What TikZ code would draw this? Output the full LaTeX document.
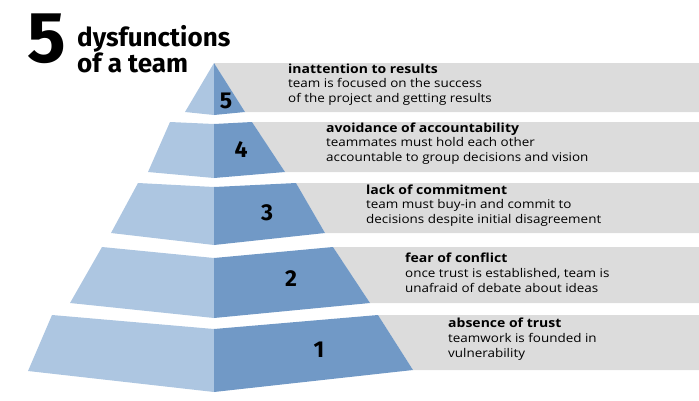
\documentclass[tikz,border=0pt]{standalone}
\usepackage{fontspec}
\setmainfont{Fira Sans}
\newfontfamily\bodyf[FakeStretch=1.12]{Open Sans}
\definecolor{lb}{HTML}{ADC6E1}
\definecolor{db}{HTML}{7199C6}
\definecolor{gb}{HTML}{DCDCDC}
\begin{document}
\begin{tikzpicture}[x=1pt,y=-1pt,
  title/.style={anchor=north west,inner sep=0pt,font=\bodyf\fontsize{12.5}{14}\selectfont\bfseries},
  body/.style={anchor=north west,inner sep=0pt,align=left,font=\bodyf\fontsize{12}{15.5}\selectfont},
  num/.style={inner sep=0pt,font=\fontsize{23}{24}\selectfont\bfseries}]
\useasboundingbox (0,0) rectangle (699,400);
% layer 5
\fill[gb] (214,63) -- (699,63) -- (699,112) -- (245,112) -- cycle;
\fill[lb] (214,63) -- (185,112) -- (214,115) -- cycle;
\fill[db] (214,63) -- (214,115) -- (245,112) -- cycle;
% layer 4
\fill[gb] (252,122) -- (699,122) -- (699,172) -- (285,172) -- cycle;
\fill[lb] (214,124) -- (170,122) -- (148,172) -- (214,178) -- cycle;
\fill[db] (214,124) -- (252,122) -- (285,172) -- (214,178) -- cycle;
% layer 3
\fill[gb] (296,183) -- (699,183) -- (699,233) -- (325,233) -- cycle;
\fill[lb] (214,187) -- (138,183) -- (111,233) -- (214,245) -- cycle;
\fill[db] (214,187) -- (296,183) -- (325,233) -- (214,245) -- cycle;
% layer 2
\fill[gb] (333,247) -- (699,247) -- (699,303) -- (370,303) -- cycle;
\fill[lb] (214,258) -- (102,247) -- (70,303) -- (214,318) -- cycle;
\fill[db] (214,258) -- (333,247) -- (370,303) -- (214,318) -- cycle;
% layer 1
\fill[gb] (378,315) -- (699,315) -- (699,370) -- (413,370) -- cycle;
\fill[lb] (214,329) -- (52,315) -- (28,371) -- (214,392) -- cycle;
\fill[db] (214,329) -- (378,315) -- (413,370) -- (214,392) -- cycle;
% numbers
\node[num] (n5) at (226,101) {5};
\node[num] (n4) at (241,150) {4};
\node[num] (n3) at (267,213) {3};
\node[num] (n2) at (291,279) {2};
\node[num] (n1) at (319,350) {1};
% texts
\node[title] (t5) at (288,64) {inattention to results};
\node[body] (b5) at (288,78) {team is focused on the success\\of the project and getting results};
\node[title] (t4) at (326,123) {avoidance of accountability};
\node[body] (b4) at (326,137) {teammates must hold each other\\accountable to group decisions and vision};
\node[title] (t3) at (366,185) {lack of commitment};
\node[body] (b3) at (366,199) {team must buy-in and commit to\\decisions despite initial disagreement};
\node[title] (t2) at (405,253) {fear of conflict};
\node[body] (b2) at (405,268) {once trust is established, team is\\unafraid of debate about ideas};
\node[title] (t1) at (448,318) {absence of trust};
\node[body] (b1) at (448,333) {teamwork is founded in\\vulnerability};
% heading
\node[anchor=north west,inner sep=0pt,font=\fontsize{72}{72}\selectfont\bfseries] (big) at (27,14) {5};
\node[anchor=north west,inner sep=0pt,align=left,font=\fontsize{26}{24}\selectfont\bfseries] (head) at (77,25) {dysfunctions\\of a team};
\end{tikzpicture}
\end{document}
